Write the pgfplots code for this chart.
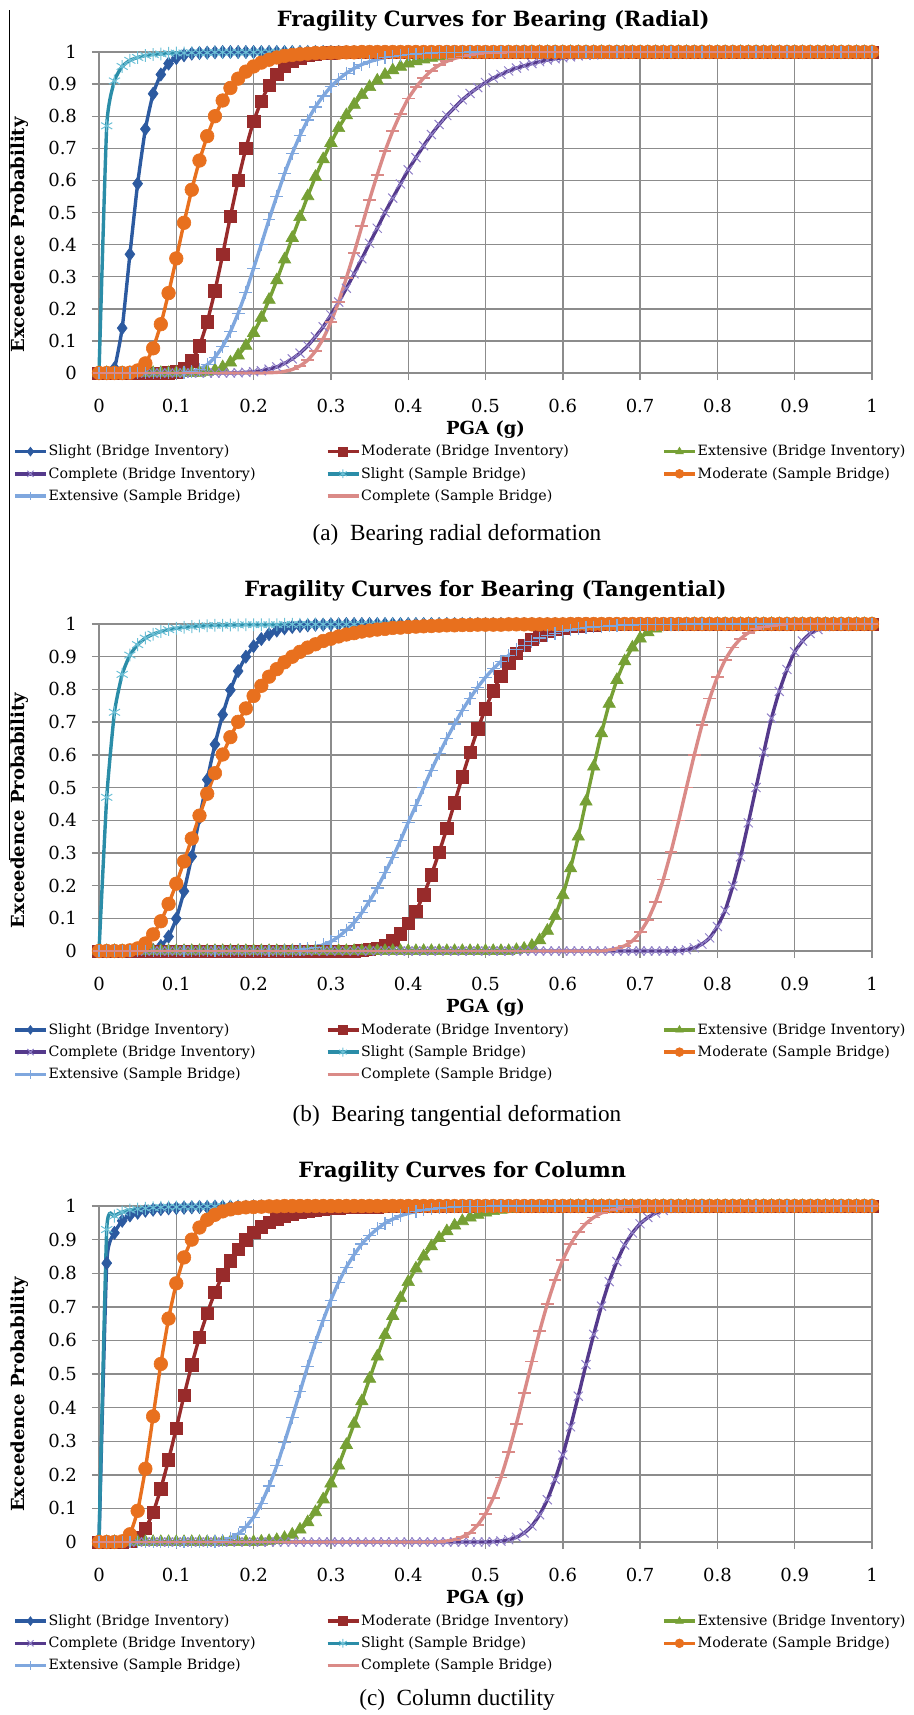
\documentclass[border=0pt]{standalone}
\usepackage{fontspec}
\setmainfont{DejaVu Serif}
\newfontfamily\capfont{Liberation Serif}
\usepackage{pgfplots}
\pgfplotsset{compat=1.18}
\usepackage{pgfplotstable}

\definecolor{cA}{HTML}{2C5AA0}
\definecolor{cB}{HTML}{982B2B}
\definecolor{cC}{HTML}{76A035}
\definecolor{cD}{HTML}{553A8C}
\definecolor{cDm}{HTML}{9080C8}
\definecolor{cE}{HTML}{2B8DA8}
\definecolor{cEm}{HTML}{6CC0D6}
\definecolor{cF}{HTML}{E8701E}
\definecolor{cG}{HTML}{7FA7DE}
\definecolor{cH}{HTML}{DA8A87}
\definecolor{gridc}{HTML}{8C8C8C}

\pgfplotstableread{
x a b c d e f g h
0.00 0 0 0 0 0 0 0 0
0.01 0 0 0 0 0.77 0 0 0
0.02 0.015 0 0 0 0.91 0 0 0
0.03 0.14 0 0 0 0.955 0 0 0
0.04 0.37 0 0 0 0.974 0.001 0 0
0.05 0.59 0 0 0 0.983 0.008 0 0
0.06 0.76 0 0 0 0.989 0.03 0 0
0.07 0.87 0 0 0 0.992 0.077 0 0
0.08 0.93 0 0 0 0.994 0.152 0 0
0.09 0.964 0.001 0 0 0.996 0.249 0 0
0.10 0.981 0.004 0 0 0.997 0.357 0 0
0.11 0.99 0.014 0 0 0.997 0.468 0.002 0
0.12 0.995 0.038 0 0 0.998 0.571 0.005 0
0.13 0.997 0.085 0.001 0 0.998 0.662 0.012 0
0.14 0.998 0.159 0.004 0 0.998 0.738 0.026 0
0.15 0.999 0.256 0.009 0 0.999 0.8 0.049 0
0.16 1 0.369 0.018 0 0.999 0.849 0.083 0
0.17 1 0.488 0.033 0 0.999 0.888 0.129 0
0.18 1 0.6 0.055 0.001 0.999 0.917 0.186 0
0.19 1 0.7 0.085 0.002 0.999 0.939 0.252 0
0.20 1 0.784 0.125 0.004 0.999 0.955 0.326 0
0.21 1 0.847 0.172 0.007 1 0.967 0.401 0
0.22 1 0.896 0.228 0.012 1 0.976 0.478 0.001
0.23 1 0.931 0.289 0.019 1 0.983 0.551 0.002
0.24 1 0.955 0.354 0.03 1 0.988 0.621 0.005
0.25 1 0.971 0.421 0.044 1 0.991 0.684 0.011
0.26 1 0.982 0.486 0.062 1 0.993 0.74 0.022
0.27 1 0.989 0.551 0.085 1 0.995 0.788 0.04
0.28 1 0.993 0.611 0.113 1 0.997 0.829 0.068
0.29 1 0.996 0.666 0.144 1 0.997 0.863 0.107
0.30 1 0.998 0.717 0.181 1 0.998 0.892 0.159
0.31 1 0.999 0.763 0.221 1 0.998 0.915 0.222
0.32 1 1 0.803 0.264 1 0.999 0.934 0.296
0.33 1 1 0.836 0.309 1 0.999 0.949 0.374
0.34 1 1 0.866 0.356 1 1 0.961 0.457
0.35 1 1 0.891 0.404 1 1 0.97 0.54
0.36 1 1 0.911 0.451 1 1 0.977 0.618
0.37 1 1 0.929 0.5 1 1 0.983 0.691
0.38 1 1 0.943 0.545 1 1 0.987 0.754
0.39 1 1 0.954 0.589 1 1 0.99 0.808
0.40 1 1 0.964 0.633 1 1 0.993 0.855
0.41 1 1 0.971 0.671 1 1 0.994 0.89
0.42 1 1 0.977 0.708 1 1 0.996 0.919
0.43 1 1 0.982 0.743 1 1 0.997 0.942
0.44 1 1 0.986 0.774 1 1 0.998 0.959
0.45 1 1 0.989 0.802 1 1 0.998 0.971
0.46 1 1 0.992 0.827 1 1 0.999 0.98
0.47 1 1 0.994 0.851 1 1 0.999 0.986
0.48 1 1 0.995 0.871 1 1 1 0.991
0.49 1 1 0.996 0.889 1 1 1 0.994
0.50 1 1 0.997 0.905 1 1 1 0.996
0.51 1 1 0.998 0.919 1 1 1 0.997
0.52 1 1 0.998 0.93 1 1 1 0.998
0.53 1 1 0.999 0.941 1 1 1 0.999
0.54 1 1 0.999 0.95 1 1 1 0.999
0.55 1 1 1 0.957 1 1 1 1
0.56 1 1 1 0.964 1 1 1 1
0.57 1 1 1 0.97 1 1 1 1
0.58 1 1 1 0.975 1 1 1 1
0.59 1 1 1 0.979 1 1 1 1
0.60 1 1 1 0.982 1 1 1 1
0.61 1 1 1 0.985 1 1 1 1
0.62 1 1 1 0.988 1 1 1 1
0.63 1 1 1 0.99 1 1 1 1
0.64 1 1 1 0.991 1 1 1 1
0.65 1 1 1 0.993 1 1 1 1
0.66 1 1 1 0.994 1 1 1 1
0.67 1 1 1 0.995 1 1 1 1
0.68 1 1 1 0.996 1 1 1 1
0.69 1 1 1 0.997 1 1 1 1
0.70 1 1 1 0.997 1 1 1 1
0.71 1 1 1 0.998 1 1 1 1
0.72 1 1 1 0.998 1 1 1 1
0.73 1 1 1 0.998 1 1 1 1
0.74 1 1 1 0.999 1 1 1 1
0.75 1 1 1 0.999 1 1 1 1
0.76 1 1 1 1 1 1 1 1
0.77 1 1 1 1 1 1 1 1
0.78 1 1 1 1 1 1 1 1
0.79 1 1 1 1 1 1 1 1
0.80 1 1 1 1 1 1 1 1
0.81 1 1 1 1 1 1 1 1
0.82 1 1 1 1 1 1 1 1
0.83 1 1 1 1 1 1 1 1
0.84 1 1 1 1 1 1 1 1
0.85 1 1 1 1 1 1 1 1
0.86 1 1 1 1 1 1 1 1
0.87 1 1 1 1 1 1 1 1
0.88 1 1 1 1 1 1 1 1
0.89 1 1 1 1 1 1 1 1
0.90 1 1 1 1 1 1 1 1
0.91 1 1 1 1 1 1 1 1
0.92 1 1 1 1 1 1 1 1
0.93 1 1 1 1 1 1 1 1
0.94 1 1 1 1 1 1 1 1
0.95 1 1 1 1 1 1 1 1
0.96 1 1 1 1 1 1 1 1
0.97 1 1 1 1 1 1 1 1
0.98 1 1 1 1 1 1 1 1
0.99 1 1 1 1 1 1 1 1
1.00 1 1 1 1 1 1 1 1
}\tabA

\pgfplotstableread{
x a b c d e f g h
0.00 0 0 0 0 0 0 0 0
0.01 0 0 0 0 0.47 0 0 0
0.02 0 0 0 0 0.73 0 0 0
0.03 0 0 0 0 0.846 0 0 0
0.04 0 0 0 0 0.905 0.002 0 0
0.05 0 0 0 0 0.937 0.008 0 0
0.06 0 0 0 0 0.957 0.023 0 0
0.07 0.003 0 0 0 0.969 0.051 0 0
0.08 0.015 0 0 0 0.977 0.091 0 0
0.09 0.044 0 0 0 0.983 0.144 0 0
0.10 0.099 0 0 0 0.987 0.206 0 0
0.11 0.183 0 0 0 0.99 0.274 0 0
0.12 0.289 0 0 0 0.992 0.344 0 0
0.13 0.407 0 0 0 0.994 0.414 0 0
0.14 0.524 0 0 0 0.995 0.481 0 0
0.15 0.632 0 0 0 0.996 0.544 0 0
0.16 0.723 0 0 0 0.996 0.601 0 0
0.17 0.798 0 0 0 0.997 0.654 0 0
0.18 0.856 0 0 0 0.997 0.701 0 0
0.19 0.9 0 0 0 0.998 0.742 0 0
0.20 0.932 0 0 0 0.998 0.78 0 0
0.21 0.954 0 0 0 0.998 0.811 0 0
0.22 0.969 0 0 0 0.998 0.839 0 0
0.23 0.98 0 0 0 0.998 0.862 0 0
0.24 0.987 0 0 0 0.999 0.883 0.001 0
0.25 0.991 0 0 0 0.999 0.9 0.002 0
0.26 0.994 0 0 0 0.999 0.915 0.004 0
0.27 0.996 0 0 0 0.999 0.928 0.007 0
0.28 0.998 0 0 0 0.999 0.938 0.011 0
0.29 0.998 0 0 0 0.999 0.948 0.019 0
0.30 0.999 0 0 0 0.999 0.955 0.029 0
0.31 0.999 0 0 0 0.999 0.962 0.044 0
0.32 1 0 0 0 0.999 0.968 0.064 0
0.33 1 0 0 0 0.999 0.972 0.087 0
0.34 1 0.002 0 0 0.999 0.977 0.117 0
0.35 1 0.005 0 0 0.999 0.98 0.153 0
0.36 1 0.009 0 0 1 0.983 0.193 0
0.37 1 0.018 0 0 1 0.985 0.239 0
0.38 1 0.032 0 0 1 0.988 0.286 0
0.39 1 0.053 0 0 1 0.989 0.338 0
0.40 1 0.084 0 0 1 0.991 0.393 0
0.41 1 0.122 0 0 1 0.992 0.445 0
0.42 1 0.172 0 0 1 0.993 0.5 0
0.43 1 0.233 0 0 1 0.994 0.553 0
0.44 1 0.302 0 0 1 0.995 0.603 0
0.45 1 0.375 0 0 1 0.996 0.65 0
0.46 1 0.453 0 0 1 0.996 0.694 0
0.47 1 0.533 0 0 1 0.997 0.736 0
0.48 1 0.608 0 0 1 0.997 0.773 0
0.49 1 0.679 0 0 1 0.998 0.807 0
0.50 1 0.741 0 0 1 0.998 0.837 0
0.51 1 0.796 0 0 1 0.998 0.863 0
0.52 1 0.841 0 0 1 0.998 0.885 0
0.53 1 0.879 0 0 1 0.999 0.904 0
0.54 1 0.911 0.003 0 1 0.999 0.921 0
0.55 1 0.934 0.007 0 1 0.999 0.935 0
0.56 1 0.953 0.016 0 1 0.999 0.947 0
0.57 1 0.967 0.033 0 1 0.999 0.957 0
0.58 1 0.977 0.062 0 1 0.999 0.965 0
0.59 1 0.984 0.107 0 1 0.999 0.972 0
0.60 1 0.989 0.171 0 1 0.999 0.977 0
0.61 1 0.993 0.253 0 1 1 0.982 0
0.62 1 0.995 0.35 0 1 1 0.986 0
0.63 1 0.997 0.457 0 1 1 0.989 0
0.64 1 0.998 0.564 0 1 1 0.991 0
0.65 1 0.999 0.666 0 1 1 0.993 0
0.66 1 1 0.756 0 1 1 0.994 0.003
0.67 1 1 0.829 0 1 1 0.996 0.008
0.68 1 1 0.886 0 1 1 0.997 0.016
0.69 1 1 0.928 0 1 1 0.997 0.031
0.70 1 1 0.956 0 1 1 0.998 0.057
0.71 1 1 0.975 0 1 1 0.998 0.095
0.72 1 1 0.986 0 1 1 0.999 0.149
0.73 1 1 0.993 0 1 1 0.999 0.219
0.74 1 1 0.996 0 1 1 0.999 0.304
0.75 1 1 0.998 0.001 1 1 0.999 0.399
0.76 1 1 0.999 0.004 1 1 1 0.5
0.77 1 1 1 0.01 1 1 1 0.599
0.78 1 1 1 0.021 1 1 1 0.691
0.79 1 1 1 0.04 1 1 1 0.772
0.80 1 1 1 0.075 1 1 1 0.838
0.81 1 1 1 0.124 1 1 1 0.89
0.82 1 1 1 0.199 1 1 1 0.928
0.83 1 1 1 0.288 1 1 1 0.955
0.84 1 1 1 0.392 1 1 1 0.973
0.85 1 1 1 0.5 1 1 1 0.984
0.86 1 1 1 0.608 1 1 1 0.991
0.87 1 1 1 0.712 1 1 1 0.995
0.88 1 1 1 0.794 1 1 1 0.998
0.89 1 1 1 0.861 1 1 1 0.999
0.90 1 1 1 0.915 1 1 1 1
0.91 1 1 1 0.948 1 1 1 1
0.92 1 1 1 0.971 1 1 1 1
0.93 1 1 1 0.983 1 1 1 1
0.94 1 1 1 0.992 1 1 1 1
0.95 1 1 1 0.996 1 1 1 1
0.96 1 1 1 0.998 1 1 1 1
0.97 1 1 1 0.999 1 1 1 1
0.98 1 1 1 1 1 1 1 1
0.99 1 1 1 1 1 1 1 1
1.00 1 1 1 1 1 1 1 1
}\tabB

\pgfplotstableread{
x a b c d e f g h
0.00 0 0 0 0 0 0 0 0
0.01 0.83 0 0 0 0.93 0 0 0
0.02 0.92 0 0 0 0.97 0 0 0
0.03 0.956 0 0 0 0.982 0.002 0 0
0.04 0.972 0.002 0 0 0.988 0.023 0 0
0.05 0.98 0.013 0 0 0.991 0.093 0 0
0.06 0.986 0.04 0 0 0.993 0.218 0 0
0.07 0.989 0.088 0 0 0.995 0.374 0 0
0.08 0.991 0.159 0 0 0.996 0.53 0 0
0.09 0.993 0.245 0 0 0.997 0.665 0 0
0.10 0.994 0.339 0 0 0.997 0.77 0 0
0.11 0.995 0.436 0 0 0.998 0.847 0 0
0.12 0.996 0.527 0 0 0.998 0.9 0 0
0.13 0.997 0.61 0 0 0.998 0.936 0 0
0.14 0.997 0.681 0 0 0.999 0.959 0.001 0
0.15 0.998 0.743 0 0 0.999 0.974 0.002 0
0.16 0.998 0.795 0 0 0.999 0.984 0.005 0
0.17 0.998 0.837 0 0 0.999 0.99 0.012 0
0.18 0.998 0.871 0 0 0.999 0.994 0.024 0
0.19 0.998 0.899 0 0 0.999 0.996 0.045 0
0.20 0.999 0.921 0 0 0.999 0.997 0.074 0
0.21 0.999 0.938 0.001 0 1 0.998 0.115 0
0.22 0.999 0.952 0.003 0 1 0.999 0.167 0
0.23 0.999 0.962 0.006 0 1 0.999 0.227 0
0.24 0.999 0.971 0.012 0 1 1 0.297 0
0.25 0.999 0.977 0.022 0 1 1 0.371 0
0.26 1 0.982 0.037 0 1 1 0.447 0
0.27 1 0.986 0.059 0 1 1 0.523 0
0.28 1 0.989 0.089 0 1 1 0.594 0
0.29 1 0.992 0.127 0 1 1 0.66 0
0.30 1 0.993 0.174 0 1 1 0.72 0
0.31 1 0.995 0.228 0 1 1 0.773 0
0.32 1 0.996 0.289 0 1 1 0.818 0
0.33 1 0.997 0.352 0 1 1 0.855 0
0.34 1 0.998 0.419 0 1 1 0.887 0
0.35 1 0.998 0.486 0 1 1 0.912 0
0.36 1 0.998 0.552 0 1 1 0.932 0
0.37 1 0.999 0.616 0 1 1 0.949 0
0.38 1 0.999 0.673 0 1 1 0.961 0
0.39 1 0.999 0.726 0 1 1 0.971 0
0.40 1 0.999 0.774 0 1 1 0.978 0
0.41 1 0.999 0.814 0 1 1 0.984 0
0.42 1 0.999 0.85 0 1 1 0.988 0
0.43 1 1 0.88 0 1 1 0.991 0
0.44 1 1 0.905 0 1 1 0.994 0.001
0.45 1 1 0.925 0 1 1 0.996 0.003
0.46 1 1 0.942 0 1 1 0.997 0.007
0.47 1 1 0.955 0 1 1 0.998 0.015
0.48 1 1 0.966 0 1 1 0.998 0.028
0.49 1 1 0.974 0 1 1 0.999 0.051
0.50 1 1 0.981 0 1 1 0.999 0.084
0.51 1 1 0.985 0.001 1 1 1 0.131
0.52 1 1 0.989 0.003 1 1 1 0.192
0.53 1 1 0.992 0.007 1 1 1 0.267
0.54 1 1 0.994 0.014 1 1 1 0.352
0.55 1 1 0.996 0.027 1 1 1 0.444
0.56 1 1 0.997 0.048 1 1 1 0.537
0.57 1 1 0.998 0.081 1 1 1 0.627
0.58 1 1 0.998 0.126 1 1 1 0.709
0.59 1 1 0.999 0.186 1 1 1 0.78
0.60 1 1 0.999 0.259 1 1 1 0.839
0.61 1 1 1 0.343 1 1 1 0.886
0.62 1 1 1 0.434 1 1 1 0.922
0.63 1 1 1 0.528 1 1 1 0.948
0.64 1 1 1 0.618 1 1 1 0.966
0.65 1 1 1 0.702 1 1 1 0.979
0.66 1 1 1 0.775 1 1 1 0.987
0.67 1 1 1 0.835 1 1 1 0.992
0.68 1 1 1 0.884 1 1 1 0.996
0.69 1 1 1 0.92 1 1 1 0.998
0.70 1 1 1 0.947 1 1 1 0.999
0.71 1 1 1 0.966 1 1 1 0.999
0.72 1 1 1 0.979 1 1 1 1
0.73 1 1 1 0.987 1 1 1 1
0.74 1 1 1 0.993 1 1 1 1
0.75 1 1 1 0.996 1 1 1 1
0.76 1 1 1 0.998 1 1 1 1
0.77 1 1 1 0.999 1 1 1 1
0.78 1 1 1 0.999 1 1 1 1
0.79 1 1 1 1 1 1 1 1
0.80 1 1 1 1 1 1 1 1
0.81 1 1 1 1 1 1 1 1
0.82 1 1 1 1 1 1 1 1
0.83 1 1 1 1 1 1 1 1
0.84 1 1 1 1 1 1 1 1
0.85 1 1 1 1 1 1 1 1
0.86 1 1 1 1 1 1 1 1
0.87 1 1 1 1 1 1 1 1
0.88 1 1 1 1 1 1 1 1
0.89 1 1 1 1 1 1 1 1
0.90 1 1 1 1 1 1 1 1
0.91 1 1 1 1 1 1 1 1
0.92 1 1 1 1 1 1 1 1
0.93 1 1 1 1 1 1 1 1
0.94 1 1 1 1 1 1 1 1
0.95 1 1 1 1 1 1 1 1
0.96 1 1 1 1 1 1 1 1
0.97 1 1 1 1 1 1 1 1
0.98 1 1 1 1 1 1 1 1
0.99 1 1 1 1 1 1 1 1
1.00 1 1 1 1 1 1 1 1
}\tabC

\pgfplotsset{
  every axis title shift=0pt,
  fragax/.style={
    scale only axis, width=386.5pt,
    xmin=0, xmax=1, ymin=0, ymax=1,
    xtick={0,0.1,0.2,0.3,0.4,0.5,0.6,0.7,0.8,0.9,1},
    ytick={0,0.1,0.2,0.3,0.4,0.5,0.6,0.7,0.8,0.9,1},
    grid=major,
    major grid style={line width=0.7pt, color=gridc},
    axis line style={line width=0.7pt, color=gridc},
    tick style={line width=0.7pt, color=gridc},
    tick align=outside, tick pos=left, major tick length=3.5pt,
    clip=false,
    /pgf/number format/assume math mode=true,
    ticklabel style={font=\fontsize{9}{10}\selectfont, color=black},
    yticklabel style={xshift=-4pt},
    xticklabel style={yshift=-6pt},
    xlabel={PGA (g)}, ylabel={Exceedence Probability},
    label style={font=\bfseries\fontsize{9}{10}\selectfont, anchor=center},
    title style={font=\bfseries\fontsize{10.5}{12}\selectfont, anchor=center},
    legend columns=3,
    legend cell align=left,
    legend image code/.code={\draw[mark repeat=2,mark phase=2] plot coordinates {(0cm,0cm) (0.27cm,0cm) (0.54cm,0cm)};},
    legend image post style={mark size=2.2pt},
    legend style={draw=none, fill=none, anchor=north west, inner sep=0pt,
      font=\fontsize{7.1}{8.5}\selectfont, row sep=1.6pt, /tikz/column sep=0pt,
      nodes={inner sep=0.6pt, text height=6.3pt, text depth=2pt}},
  },
  sA/.style={color=cA, line width=1.7pt, smooth, tension=0.3, mark=diamond*, mark size=3.3pt, mark options={solid, line width=0.3pt, fill=cA}},
  sB/.style={color=cB, line width=1.7pt, smooth, tension=0.3, mark=square*, mark size=3.1pt, mark options={solid, line width=0.3pt, fill=cB}},
  sC/.style={color=cC, line width=1.7pt, smooth, tension=0.3, mark=triangle*, mark size=3.6pt, mark options={solid, line width=0.3pt, fill=cC}},
  sD/.style={color=cD, line width=1.7pt, smooth, tension=0.3, mark=x, mark size=3.2pt, mark options={solid, line width=0.5pt, draw=cDm}},
  sE/.style={color=cE, line width=1.7pt, smooth, tension=0.3, mark=asterisk, mark size=3.2pt, mark options={solid, line width=0.5pt, draw=cEm}},
  sF/.style={color=cF, line width=1.7pt, smooth, tension=0.3, mark=*, mark size=3.4pt, mark options={solid, line width=0.3pt, fill=cF}},
  sG/.style={color=cG, line width=1.7pt, smooth, tension=0.3, mark=+, mark size=3.2pt, mark options={solid, line width=0.6pt}},
  sH/.style={color=cH, line width=1.7pt, smooth, tension=0.3, mark=-, mark size=3.2pt, mark options={solid, line width=0.9pt}},
}

\newcommand\allplots[1]{%
  \addplot[sA] table[x=x,y=a]{#1};
  \addlegendentry{\makebox[138pt][l]{Slight (Bridge Inventory)}}
  \addplot[sB] table[x=x,y=b]{#1};
  \addlegendentry{\makebox[150pt][l]{Moderate (Bridge Inventory)}}
  \addplot[sC] table[x=x,y=c]{#1};
  \addlegendentry{Extensive (Bridge Inventory)}
  \addplot[sD] table[x=x,y=d]{#1};
  \addlegendentry{\makebox[138pt][l]{Complete (Bridge Inventory)}}
  \addplot[sE] table[x=x,y=e]{#1};
  \addlegendentry{\makebox[150pt][l]{Slight (Sample Bridge)}}
  \addplot[sF] table[x=x,y=f]{#1};
  \addlegendentry{Moderate (Sample Bridge)}
  \addplot[sG] table[x=x,y=g]{#1};
  \addlegendentry{\makebox[138pt][l]{Extensive (Sample Bridge)}}
  \addplot[sH] table[x=x,y=h]{#1};
  \addlegendentry{\makebox[150pt][l]{Complete (Sample Bridge)}}
}

\begin{document}
\begin{tikzpicture}
\path[use as bounding box] (0,0) rectangle (457pt,-857.5pt);
\draw[line width=0.5pt] (4.5pt,-5pt) -- (4.5pt,-430pt);

\begin{axis}[fragax, at={(49.5pt,-186.5pt)}, anchor=south west, height=160.5pt,
  title={Fragility Curves for Bearing (Radial)},
  title style={at={(rel axis cs:0.51,1.097)}},
  xlabel style={at={(rel axis cs:0.5,-0.178)}},
  ylabel style={at={(rel axis cs:-0.102,0.43)}},
  legend style={at={(rel axis cs:-0.1113,-0.214)}}]
\allplots{\tabA}
\end{axis}
\node[font=\capfont\fontsize{11.6}{14}\selectfont] at (228.5pt,-267.5pt) {(a)\ \ Bearing radial deformation};

\begin{axis}[fragax, at={(49.5pt,-475.5pt)}, anchor=south west, height=163.5pt,
  title={Fragility Curves for Bearing (Tangential)},
  title style={at={(rel axis cs:0.50,1.102)}},
  xlabel style={at={(rel axis cs:0.5,-0.174)}},
  ylabel style={at={(rel axis cs:-0.102,0.43)}},
  legend style={at={(rel axis cs:-0.1113,-0.211)}}]
\allplots{\tabB}
\end{axis}
\node[font=\capfont\fontsize{11.6}{14}\selectfont] at (228.5pt,-558pt) {(b)\ \ Bearing tangential deformation};

\begin{axis}[fragax, at={(49.5pt,-771pt)}, anchor=south west, height=168pt,
  title={Fragility Curves for Column},
  title style={at={(rel axis cs:0.47,1.101)}},
  xlabel style={at={(rel axis cs:0.5,-0.170)}},
  ylabel style={at={(rel axis cs:-0.102,0.44)}},
  legend style={at={(rel axis cs:-0.1113,-0.206)}}]
\allplots{\tabC}
\end{axis}
\node[font=\capfont\fontsize{11.6}{14}\selectfont] at (228.5pt,-850pt) {(c)\ \ Column ductility};
\end{tikzpicture}
\end{document}
